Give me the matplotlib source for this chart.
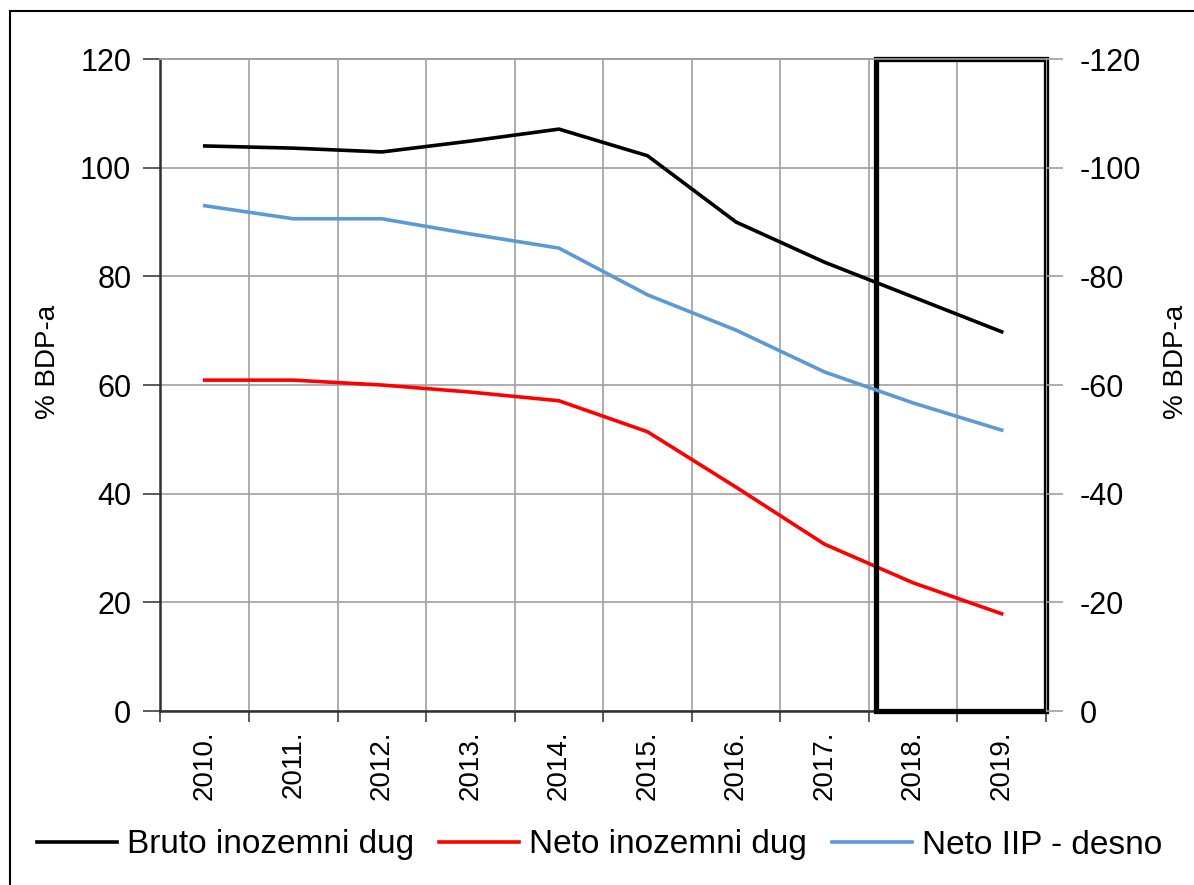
import matplotlib.pyplot as plt
from matplotlib.patches import Rectangle
import numpy as np

plt.rcParams['font.family'] = ['Liberation Sans', 'DejaVu Sans']
plt.rcParams['axes.unicode_minus'] = False

years = ['2010.', '2011.', '2012.', '2013.', '2014.', '2015.', '2016.', '2017.', '2018.', '2019.']
bruto_dug = [104.0, 103.6, 102.9, 104.9, 107.1, 102.2, 90.0, 82.6, 76.2, 69.8]
neto_dug = [60.9, 60.9, 60.0, 58.7, 57.1, 51.4, 41.2, 30.7, 23.6, 17.9]
neto_iip = [-93.0, -90.6, -90.6, -87.8, -85.2, -76.6, -70.1, -62.4, -56.7, -51.7]

fig = plt.figure(figsize=(11.94, 8.85), dpi=100)
ax = fig.add_axes([0.1344, 0.1966, 0.7416, 0.7367])
ax2 = ax.twinx()

x = np.arange(len(years))
l1, = ax.plot(x, bruto_dug, color='black', lw=2.6, label='Bruto inozemni dug')
l2, = ax.plot(x, neto_dug, color='#ff0000', lw=2.6, label='Neto inozemni dug')
l3, = ax2.plot(x, neto_iip, color='#5b9bd5', lw=2.6, label='Neto IIP - desno')

ax.set_xlim(-0.5, len(years) - 0.5)
ax.set_ylim(0, 120)
ax2.set_ylim(0, -120)
ax.set_yticks(range(0, 121, 20))
ax2.set_yticks(range(0, -121, -20))

# gridlines sit on the category boundaries, labels in the middle
ax.set_xticks(np.arange(-0.5, len(years), 1.0))
ax.set_xticklabels([])
ax.set_xticks(x, minor=True)
ax.set_xticklabels(years, minor=True, rotation=90, fontsize=20)
ax.tick_params(axis='x', which='minor', length=0, pad=14)
ax.tick_params(axis='x', which='major', length=8, width=1.2, color='#404040')
ax.grid(True, which='major', color='#a0a0a0', lw=1.2)
ax.set_axisbelow(True)

ax.tick_params(axis='y', labelsize=22, length=12, width=1.2, color='#404040', pad=9)
ax2.tick_params(axis='y', labelsize=22, length=12, width=1.2, color='#a0a0a0', pad=12)
ax.spines['left'].set_color('#303030')
ax.spines['left'].set_linewidth(1.8)
ax.spines['bottom'].set_color('#303030')
ax.spines['bottom'].set_linewidth(1.8)
for a in (ax, ax2):
    a.spines['top'].set_color('#a0a0a0')
    a.spines['top'].set_linewidth(1.2)
    a.spines['right'].set_color('#a0a0a0')
ax2.spines['left'].set_visible(False)
ax2.spines['bottom'].set_visible(False)

# axis titles placed directly so both sit where the original has them
fig.text(48 / 1194, 1 - 362 / 885, '% BDP-a', fontsize=20, rotation=90,
         ha='center', va='center')
fig.text(1176 / 1194, 1 - 362 / 885, '% BDP-a', fontsize=20, rotation=90,
         ha='center', va='center')

# highlight box for projection years
ax.add_patch(Rectangle((7.58, 0), 9.5 - 7.58, 120, fill=False, ec='black',
                       lw=3.8, clip_on=False, zorder=5))

fig.legend(handles=[l1, l2, l3], loc='center left', bbox_to_anchor=(37 / 1194, 1 - 845 / 885),
           borderaxespad=0, borderpad=0, ncol=3, frameon=False, fontsize=24,
           handlelength=2.4, handletextpad=0.3, columnspacing=0.75)

# outer frame
fig.add_artist(Rectangle((10 / 1194, -0.5), 2.0, 1.5 - 11 / 885, fill=False,
                         ec='black', lw=1.5, transform=fig.transFigure))

fig.savefig('out.png', dpi=100)
